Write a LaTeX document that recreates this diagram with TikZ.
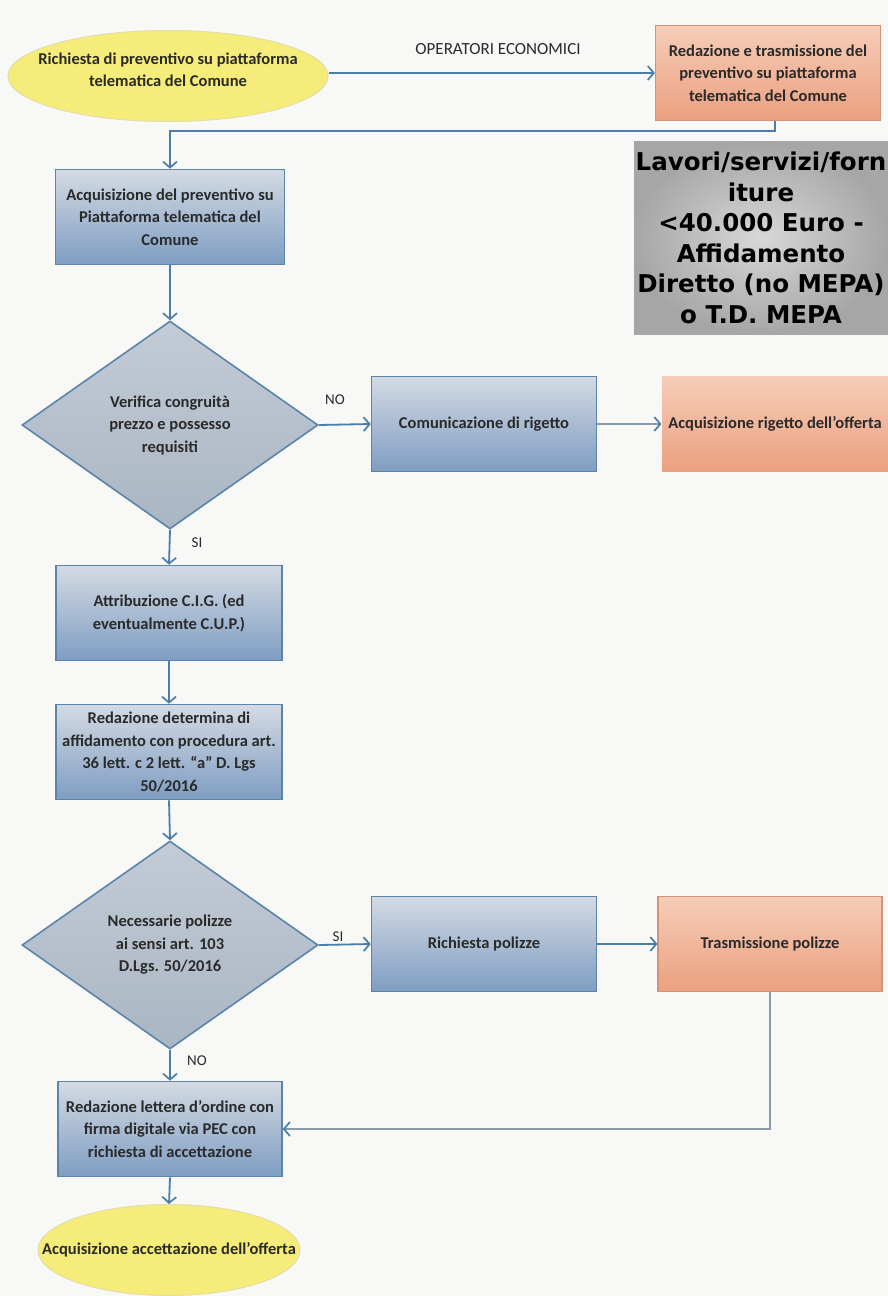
\documentclass[tikz,border=0pt]{standalone}
\usepackage{fontspec}
\setmainfont{Carlito}
\newfontfamily\labfont{DejaVu Sans}
\usetikzlibrary{arrows.meta,shapes.geometric}
\definecolor{bg}{HTML}{F8F8F6}
\definecolor{txt}{HTML}{2A2A2A}
\definecolor{bluetop}{HTML}{D4DAE3}
\definecolor{bluebot}{HTML}{7E9DC2}
\definecolor{blueedge}{HTML}{5A84AA}
\definecolor{diafill}{HTML}{AAB6C4}
\definecolor{diamid}{HTML}{C3CBD5}
\definecolor{ortop}{HTML}{F6CDB8}
\definecolor{orbot}{HTML}{EBA07F}
\definecolor{oredge}{HTML}{D49278}
\definecolor{ellfill}{HTML}{F5EC7A}
\definecolor{elledge}{HTML}{E4DDA8}
\definecolor{arrowblue}{HTML}{4A7DA8}
\definecolor{arrowgray}{HTML}{8A9AAA}
\definecolor{graymid}{HTML}{D8D8D8}
\definecolor{grayout}{HTML}{A6A6A6}
\begin{document}
\begin{tikzpicture}[x=1pt,y=-1pt,
  base/.style={font=\fontsize{16.5}{22.5}\selectfont\bfseries, text=txt, align=center, inner sep=0pt},
  bluebox/.style={base, rectangle, draw=blueedge, line width=1.6pt, top color=bluetop, bottom color=bluebot, minimum width=226pt, minimum height=95pt},
  orangebox/.style={base, rectangle, draw=oredge, line width=1.2pt, top color=ortop, bottom color=orbot, minimum width=225pt, minimum height=95pt},
  decision/.style={base, diamond, draw=blueedge, line width=1.6pt, top color=diamid, bottom color=diafill, minimum width=296pt, minimum height=208pt},
  terminal/.style={ellipse, draw=elledge, line width=1pt, fill=ellfill, minimum height=91pt, inner sep=0pt},
  lbl/.style={font=\fontsize{15}{18}\selectfont, text=txt, inner sep=0pt},
  conn/.style={draw=arrowblue, line width=1.8pt, -{Straight Barb[length=6pt,width=14pt,line width=1.7pt]}},
  thinconn/.style={draw=arrowgray, line width=1.1pt, -{Straight Barb[length=6pt,width=14pt,line width=1.7pt,color=arrowblue]}},
  tag/.style={font=\labfont\bfseries\fontsize{24.5}{30.5}\selectfont, text=black, align=center, inner sep=0pt}
]
\fill[bg] (0,0) rectangle (888,1296);
\useasboundingbox (0,0) rectangle (888,1296);

% nodes
\node[terminal, minimum width=320pt] (e1) at (168,76) {};
\node[base] (e1t) at (168,70) {Richiesta di preventivo su piattaforma\\telematica del Comune};
\node[orangebox] (r1) at (768,73) {Redazione e trasmissione del\\preventivo su piattaforma\\telematica del Comune};
\node[lbl, font=\fontsize{17}{20}\selectfont] (op) at (498,49) {OPERATORI ECONOMICI};
\node[bluebox, minimum width=229pt] (b2) at (170,217) {Acquisizione del preventivo su\\Piattaforma telematica del\\Comune};
\node[rectangle, minimum width=254pt, minimum height=193pt, inner color=graymid, outer color=grayout] (tagbox) at (761,238) {};
\node[tag] (tagtext) at (tagbox.center) {Lavori/servizi/forn\\iture\\<40.000 Euro -\\Affidamento\\Diretto (no MEPA)\\o T.D. MEPA};
\node[decision] (d1) at (170,425) {Verifica congruità\\prezzo e possesso\\requisiti};
\node[bluebox, minimum width=225pt] (b3) at (484,424) {Comunicazione di rigetto};
\node[orangebox, draw=none, minimum width=226pt] (o2) at (775,424) {Acquisizione rigetto dell'offerta};
\node[lbl] (no1) at (335,400) {NO};
\node[lbl] (si1) at (197,543) {SI};
\node[bluebox] (b4) at (169,613) {Attribuzione C.I.G. (ed\\eventualmente C.U.P.)};
\node[bluebox] (b5) at (169,752) {Redazione determina di\\affidamento con procedura art.\\36 lett. c 2 lett. “a” D. Lgs\\50/2016};
\node[decision] (d2) at (170,945) {Necessarie polizze\\ai sensi art. 103\\D.Lgs. 50/2016};
\node[bluebox, minimum width=225pt] (b6) at (484,944) {Richiesta polizze};
\node[orangebox, minimum width=224pt] (o3) at (770,944) {Trasmissione polizze};
\node[lbl] (si2) at (338,937) {SI};
\node[lbl] (no2) at (197,1061) {NO};
\node[bluebox, minimum width=224pt] (b7) at (170,1129) {Redazione lettera d'ordine con\\firma digitale via PEC con\\richiesta di accettazione};
\node[terminal, minimum width=262pt] (e2) at (169,1250) {};
\node[base] (e2t) at (e2.center) {Acquisizione accettazione dell'offerta};

% connectors
\draw[conn] (e1.east |- r1.west) -- (r1.west);
\draw[conn, line width=1.6pt] ([xshift=7pt]r1.south) -- ++(0,10) -| (b2.north);
\draw[conn] (b2.south) -- (d1.north);
\draw[conn] (d1.east) -- (b3.west);
\draw[thinconn] (b3.east) -- (o2.west);
\draw[conn] (d1.south) -- (b4.north);
\draw[conn] (b4.south) -- (b5.north);
\draw[conn] (b5.south) -- (d2.north);
\draw[conn] (d2.east) -- (b6.west);
\draw[conn] (b6.east) -- (o3.west);
\draw[thinconn] (o3.south) |- (b7.east);
\draw[conn] (d2.south) -- (b7.north);
\draw[conn] (b7.south) -- (e2.north);
\end{tikzpicture}
\end{document}
